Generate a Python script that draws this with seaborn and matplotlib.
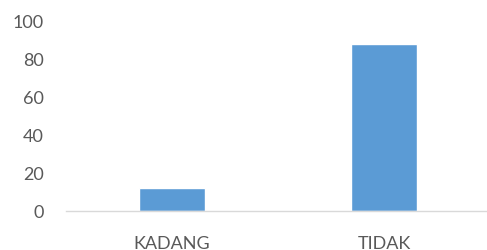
import matplotlib
matplotlib.use("Agg")
import matplotlib.pyplot as plt
import seaborn as sns
import pandas as pd

categories = ["KADANG", "TIDAK"]
values = [12, 88]

df = pd.DataFrame({"cat": categories, "val": values})

sns.set_theme(style="white")
plt.rcParams['font.family'] = ['Lato', 'DejaVu Sans']

fig = plt.figure(figsize=(4.87, 2.51), dpi=100)
ax = fig.add_axes([66/487, 39/251, 424/487, 190/251])

sns.barplot(data=df, x="cat", y="val", color="#5B9BD5", width=0.31, saturation=1, ax=ax)

ax.set_ylim(0, 100)
ax.set_xlim(-0.5, 1.5)
ax.set_yticks([0, 20, 40, 60, 80, 100])
ax.set_xlabel("")
ax.set_ylabel("")
for s in ["top", "right", "left"]:
    ax.spines[s].set_visible(False)
ax.spines["bottom"].set_color("#D9D9D9")
ax.spines["bottom"].set_linewidth(1.0)
ax.tick_params(axis="y", length=0, pad=16, labelsize=13, labelcolor="#595959")
ax.tick_params(axis="x", length=0, pad=17, labelsize=13, labelcolor="#595959")
ax.grid(False)

fig.savefig("out.png", dpi=100)
